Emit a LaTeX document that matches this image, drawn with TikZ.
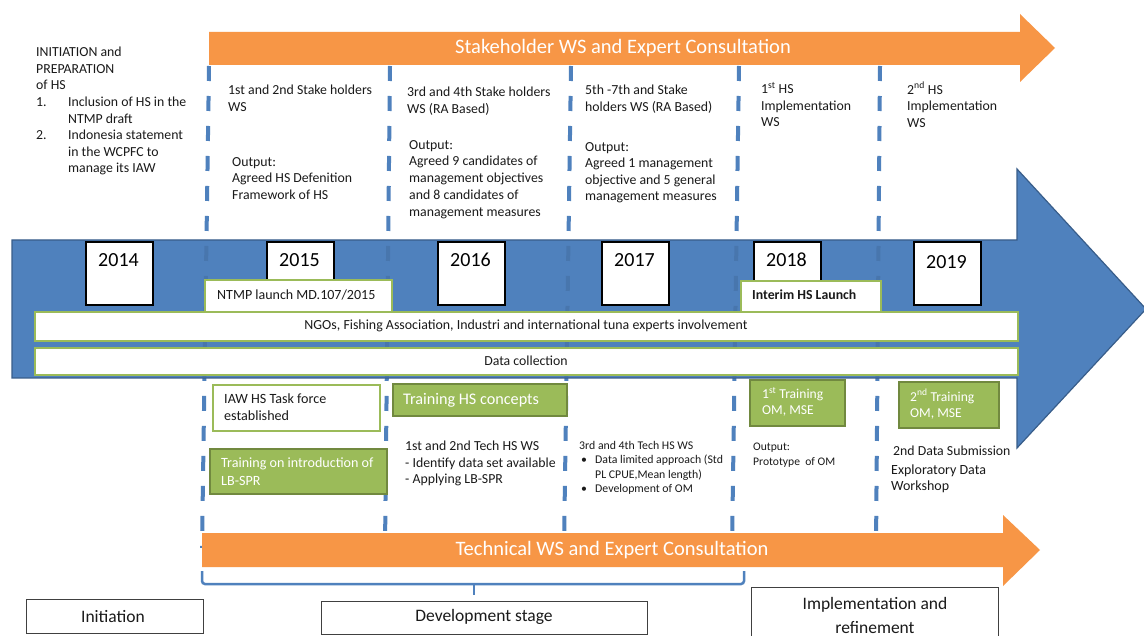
\documentclass[tikz,border=0pt]{standalone}
\usepackage{fontspec}
\setmainfont{Carlito}
\newcommand\myfs[2]{\fontsize{#1}{#2}\selectfont}
\definecolor{orng}{HTML}{F79646}
\definecolor{blu}{HTML}{4F81BD}
\definecolor{bluD}{HTML}{385D8A}
\definecolor{grn}{HTML}{9BBB59}
\definecolor{grnD}{HTML}{71893F}
\definecolor{txt}{HTML}{1A1A1A}
\tikzset{
  vline/.style={blu, line width=4, dash pattern=on 15 off 15},
  yearbox/.style={draw=black, line width=2.2, fill=white, anchor=north west, minimum width=67, minimum height=63, inner sep=0},
  yeartxt/.style={font=\myfs{20}{24}, text=black, inner sep=0},
  body/.style={font=\myfs{13.8}{16.6}, text=txt, align=left, anchor=north west, inner sep=0},
  small/.style={font=\myfs{11.8}{14.5}, text=txt, align=left, anchor=north west, inner sep=0},
  wbox/.style={draw=grn, line width=2, fill=white, anchor=north west, inner sep=0},
  gbox/.style={draw=grnD, line width=2.2, fill=grn, anchor=north west, inner sep=0},
  wtxt/.style={text=white, align=left, anchor=north west, inner sep=0},
  ltxt/.style={text=txt, anchor=west, inner sep=0},
  stage/.style={draw=black!75, line width=0.8, fill=white, anchor=north west, inner sep=0},
  stagetxt/.style={font=\myfs{17.5}{24}, text=txt, align=center, inner sep=0},
}
\begin{document}
\begin{tikzpicture}[x=1pt,y=-1pt]
\useasboundingbox (0,0) rectangle (1144,636);
\fill[white] (0,0) rectangle (1144,636);
% dashed dividers
\foreach \a/\b in {209/202, 390/385, 571/564, 739/732, 880/876}
  \draw[vline] (\a,66) -- (\b,548);
% big blue arrow
\draw[fill=blu, draw=bluD, line width=1.2] (12,240) -- (1017,240) -- (1017,169) -- (1146,309) -- (1017,448) -- (1017,378) -- (12,378) -- cycle;
\begin{scope}
  \clip (13,241) rectangle (1016,377);
  \foreach \a/\b in {209/202, 390/385, 571/564, 739/732, 880/876}
    \draw[vline, bluD, opacity=0.3] (\a,66) -- (\b,548);
\end{scope}
% top orange arrow
\fill[orng] (209,32) -- (1020,32) -- (1020,14) -- (1055,48) -- (1020,82) -- (1020,65) -- (209,65) -- cycle;
\node[font=\myfs{20.5}{24}, text=white] (stk) at (623,48) {Stakeholder WS and Expert Consultation};
% bottom orange arrow
\fill[orng] (202,533) -- (1003,533) -- (1003,515) -- (1040,550) -- (1003,586) -- (1003,567) -- (202,567) -- cycle;
\node[font=\myfs{20.5}{24}, text=white] (tech) at (612,550) {Technical WS and Expert Consultation};
% top texts
\node[body] (init) at (36,47) {INITIATION and\\PREPARATION\\of HS\\\makebox[32pt][l]{1.}Inclusion of HS in the\\\hspace*{32pt}NTMP draft\\\makebox[32pt][l]{2.}Indonesia statement\\\hspace*{32pt}in the WCPFC to\\\hspace*{32pt}manage its IAW};
\node[body] (sw1) at (228,85) {1st and 2nd Stake holders\\WS};
\node[body] (out1) at (232,157) {Output:\\Agreed HS Defenition\\Framework of HS};
\node[body] (sw2) at (407,87) {3rd and 4th Stake holders\\WS (RA Based)};
\node[body, font=\myfs{13.8}{16.8}] (out2) at (409,140) {Output:\\Agreed 9 candidates of\\management objectives\\and 8 candidates of\\management measures};
\node[body] (sw3) at (585,85) {5th -7th and Stake\\holders WS (RA Based)};
\node[body] (out3) at (585,142) {Output:\\Agreed 1 management\\objective and 5 general\\management measures};
\node[body] (sw4) at (761,82) {1\textsuperscript{st} HS\\Implementation\\WS};
\node[body] (sw5) at (907,82) {2\textsuperscript{nd} HS\\Implementation\\WS};
% year boxes
\node[yearbox] (b2014) at (85,241) {};
\node[yeartxt] (t2014) at (118.5,260) {2014};
\node[yearbox] (b2015) at (266,241) {};
\node[yeartxt] (t2015) at (299.5,260) {2015};
\node[yearbox] (b2016) at (437,241) {};
\node[yeartxt] (t2016) at (470.5,260) {2016};
\node[yearbox] (b2017) at (601,241) {};
\node[yeartxt] (t2017) at (634.5,260) {2017};
\node[yearbox] (b2018) at (753,241) {};
\node[yeartxt] (t2018) at (786.5,260) {2018};
\node[yearbox] (b2019) at (913,241) {};
\node[yeartxt] (t2019) at (946.5,262) {2019};
% launch boxes
\node[wbox, minimum width=187, minimum height=32] (ntmp) at (204,279) {};
\node[ltxt, font=\myfs{14}{16}] (ntmpt) at (217,295) {NTMP launch MD.107/2015};
\node[wbox, minimum width=140, minimum height=31] (intr) at (740,280) {};
\node[ltxt, font=\myfs{13.8}{16}\bfseries] (intrt) at (752,295) {Interim HS Launch};
% bars
\node[wbox, minimum width=983, minimum height=29] (ngo) at (34,311) {};
\node[font=\myfs{13.9}{16}, text=txt, inner sep=0] (ngot) at (526,326) {NGOs, Fishing Association, Industri and international tuna experts involvement};
\node[wbox, minimum width=983, minimum height=27] (dat) at (34,347) {};
\node[font=\myfs{13.8}{16}, text=txt, inner sep=0] (datt) at (526,361) {Data collection};
% lower boxes
\node[wbox, minimum width=167, minimum height=46] (iaw) at (212,384) {};
\node[body, font=\myfs{14.1}{17}] (iawt) at (224,394) {IAW HS Task force\\established};
\node[gbox, minimum width=174, minimum height=32] (trc) at (392,383) {};
\node[ltxt, text=white, font=\myfs{16.2}{18}] (trct) at (403,400) {Training HS concepts};
\node[gbox, minimum width=177, minimum height=45] (lbs) at (209,448) {};
\node[wtxt, font=\myfs{14.1}{17.5}] (lbst) at (221,458) {Training on introduction of\\LB-SPR};
\node[body] (tw1) at (405,441) {1st and 2nd Tech HS WS\\- Identify data set available\\- Applying LB-SPR};
\node[small] (tw2) at (579,441) {3rd and 4th Tech HS WS\\\makebox[16pt][l]{\hspace*{2pt}•}Data limited approach (Std\\\hspace*{16pt}PL CPUE,Mean length)\\\makebox[16pt][l]{\hspace*{2pt}•}Development of OM};
\node[gbox, minimum width=95, minimum height=46] (tr1) at (749,379) {};
\node[wtxt, font=\myfs{13.6}{16.5}] (tr1t) at (762,387) {1\textsuperscript{st} Training\\OM, MSE};
\node[small, font=\myfs{11.6}{15}] (pro) at (753,443) {Output:\\Prototype\ \ of OM};
\node[gbox, minimum width=100, minimum height=46] (tr2) at (898,381) {};
\node[wtxt, font=\myfs{13.6}{16}] (tr2t) at (910,389) {2\textsuperscript{nd} Training\\OM, MSE};
\node[ltxt, font=\myfs{13.8}{18}] (sub) at (893,451) {2nd Data Submission};
\node[body, font=\myfs{14}{15.5}] (exp) at (891,465) {Exploratory Data\\Workshop};
% bracket
\draw[blu, line width=2.5, rounded corners=3] (202,571) -- (202,584) -- (744,584) -- (744,571);
\draw[blu, line width=2.5] (474,584) -- (474,595);
% stage boxes
\node[stage, minimum width=177, minimum height=34] (sInit) at (26,599) {};
\node[stagetxt] (sInitT) at (113,617) {Initiation};
\node[stage, minimum width=326, minimum height=33] (sDev) at (321,601) {};
\node[stagetxt] (sDevT) at (484,617) {Development stage};
\node[stage, minimum width=247, minimum height=55] (sImp) at (751,587) {};
\node[stagetxt] (sImpT) at (875,615) {Implementation and\\refinement};
\end{tikzpicture}
\end{document}
